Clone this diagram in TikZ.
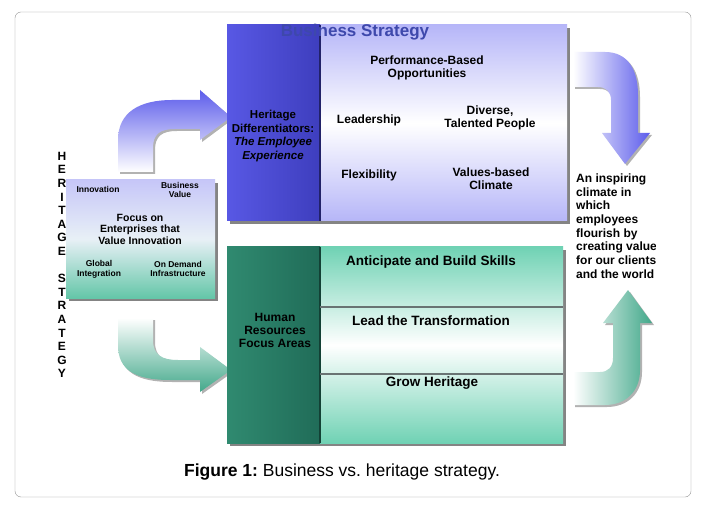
\documentclass[tikz,border=0pt]{standalone}
\usepackage{fontspec}
\setmainfont{Liberation Sans}
\usetikzlibrary{shadows}
\frenchspacing
\definecolor{bluecol}{RGB}{88,88,228}
\definecolor{bluedeep}{RGB}{62,62,190}
\definecolor{bluelight}{RGB}{182,182,248}
\definecolor{greencol}{RGB}{48,138,112}
\definecolor{greendeep}{RGB}{32,108,88}
\definecolor{greenlight}{RGB}{112,210,180}
\definecolor{arrowblue}{RGB}{92,92,235}
\definecolor{arrowgreen}{RGB}{66,168,138}
\definecolor{titleblue}{RGB}{62,72,172}
\definecolor{framegray}{RGB}{150,150,150}
\definecolor{rulegray}{RGB}{105,115,115}
\definecolor{smalltop}{RGB}{198,198,248}
\definecolor{smallmid}{RGB}{232,240,246}
\definecolor{smallbot}{RGB}{100,198,168}
\tikzset{
  lbl/.style={font=\bfseries\fontsize{12}{13}\selectfont, align=center, inner sep=0pt},
  biglbl/.style={font=\bfseries\fontsize{13.5}{15}\selectfont, align=center, inner sep=0pt},
  smalllbl/.style={font=\bfseries\fontsize{8.5}{9.8}\selectfont, align=center, inner sep=0pt},
  boxshadow/.style={drop shadow={shadow xshift=3pt, shadow yshift=-3pt, opacity=0.6, fill=black!80}},
  arrowshadow/.style={drop shadow={shadow xshift=2pt, shadow yshift=-2pt, opacity=0.3, fill=black}},
}
\begin{document}
\begin{tikzpicture}[x=1pt, y=-1pt]
\useasboundingbox (0,0) rectangle (703,510);
\fill[white] (0,0) rectangle (703,510);
\draw[framegray, rounded corners=6pt] (15,12) rectangle (691,497);

% block arrows
\path[arrowshadow, top color=arrowblue, bottom color=white] (118,172) -- (118,140) .. controls (118,112) and (140,100) .. (172,100) -- (200,100) -- (200,90) -- (231,117) -- (200,140) -- (200,129) -- (175,129) .. controls (160,129) and (153,134) .. (153,148) -- (153,172) -- cycle;
\path[arrowshadow, top color=white, bottom color=arrowgreen] (118,318) -- (118,345) .. controls (118,370) and (135,380) .. (170,380) -- (200,380) -- (200,392) -- (231,370) -- (200,347) -- (200,360) -- (178,360) .. controls (162,360) and (153,355) .. (153,340) -- (153,318) -- cycle;
\path[arrowshadow, left color=white, right color=arrowblue] (573,52) -- (605,52) .. controls (628,52) and (638,70) .. (638,95) -- (638,133) -- (650,133) -- (625,164) -- (602,133) -- (611,133) -- (611,100) .. controls (611,92) and (606,87) .. (598,87) -- (573,87) -- cycle;
\path[arrowshadow, left color=white, right color=arrowgreen] (573,372) -- (600,372) .. controls (608,372) and (613,367) .. (613,358) -- (613,323) -- (603,323) -- (628,290) -- (652,323) -- (640,323) -- (640,370) .. controls (640,392) and (625,405) .. (605,405) -- (573,405) -- cycle;

% heritage strategy box
\path[boxshadow, top color=smalltop, bottom color=smallbot, middle color=smallmid] (66,180) rectangle (215,298);
\node[smalllbl] (innov) at (98,189) {Innovation};
\node[smalllbl] (bizval) at (180,190) {Business\\Value};
\node[font=\bfseries\fontsize{10.5}{11.5}\selectfont, align=center, inner sep=0pt] (focus) at (140,229) {Focus on\\Enterprises that\\Value Innovation};
\node[smalllbl] (global) at (99,269) {Global\\Integration};
\node[smalllbl] (ondemand) at (178,269) {On Demand\\Infrastructure};
\node[font=\bfseries\fontsize{12}{13.6}\selectfont, align=center, inner sep=0pt] (heritage) at (62,265) {H\\E\\R\\I\\T\\A\\G\\E\\[13.6pt]S\\T\\R\\A\\T\\E\\G\\Y};

% business strategy box
\path[boxshadow, fill=bluelight] (227,25) rectangle (567,221);
\shade[top color=bluelight, bottom color=bluelight, middle color=white] (320,25) rectangle (567,221);
\shade[left color=bluecol, right color=bluedeep] (227,25) rectangle (320,221);
\draw[line width=1.5pt, bluedeep!55!black] (320,25) -- (320,221);
\node[font=\bfseries\fontsize{17}{19}\selectfont, text=titleblue, inner sep=0pt] (biztitle) at (355,32) {Business Strategy};
\node[font=\bfseries\fontsize{11.5}{13.4}\selectfont, align=center, inner sep=0pt] (differ) at (273,136) {Heritage\\Differentiators:\\\textit{The Employee}\\\textit{Experience}};
\node[lbl] (perf) at (427,68) {Performance-Based\\Opportunities};
\node[lbl] (lead) at (369,120) {Leadership};
\node[lbl] (diverse) at (490,118) {Diverse,\\Talented People};
\node[lbl] (flex) at (369,175) {Flexibility};
\node[lbl] (values) at (491,179) {Values-based\\Climate};

% human resources box
\path[boxshadow, fill=greenlight] (227,247) rectangle (563,443);
\shade[top color=greenlight, bottom color=greenlight, middle color=white] (320,247) rectangle (563,443);
\shade[left color=greencol, right color=greendeep] (227,247) rectangle (320,443);
\draw[line width=1.5pt, greendeep!60!black] (320,247) -- (320,443);
\draw[line width=1.6pt, rulegray] (320,307) -- (563,307);
\draw[line width=1.6pt, rulegray] (320,374) -- (563,374);
\node[font=\bfseries\fontsize{12}{13}\selectfont, align=center, inner sep=0pt] (hrfocus) at (275,330) {Human\\Resources\\Focus Areas};
\node[biglbl] (skills) at (431,262) {Anticipate and Build Skills};
\node[biglbl] (transform) at (431,321) {Lead the Transformation};
\node[biglbl] (grow) at (432,383) {Grow Heritage};

% outcome
\begin{scope}
  \clip (570,150) rectangle (655,290);
  \node[font=\bfseries\fontsize{12}{13.7}\selectfont, align=left, inner sep=0pt, anchor=west] (climate) at (576,226) {An inspiring\\climate in\\which\\employees\\flourish by\\creating value\\for our clients\\and the world};
\end{scope}

\node[font=\fontsize{17.5}{20}\selectfont, inner sep=0pt] (caption) at (342,472) {\textbf{Figure 1:} Business vs. heritage strategy.};
\end{tikzpicture}
\end{document}
